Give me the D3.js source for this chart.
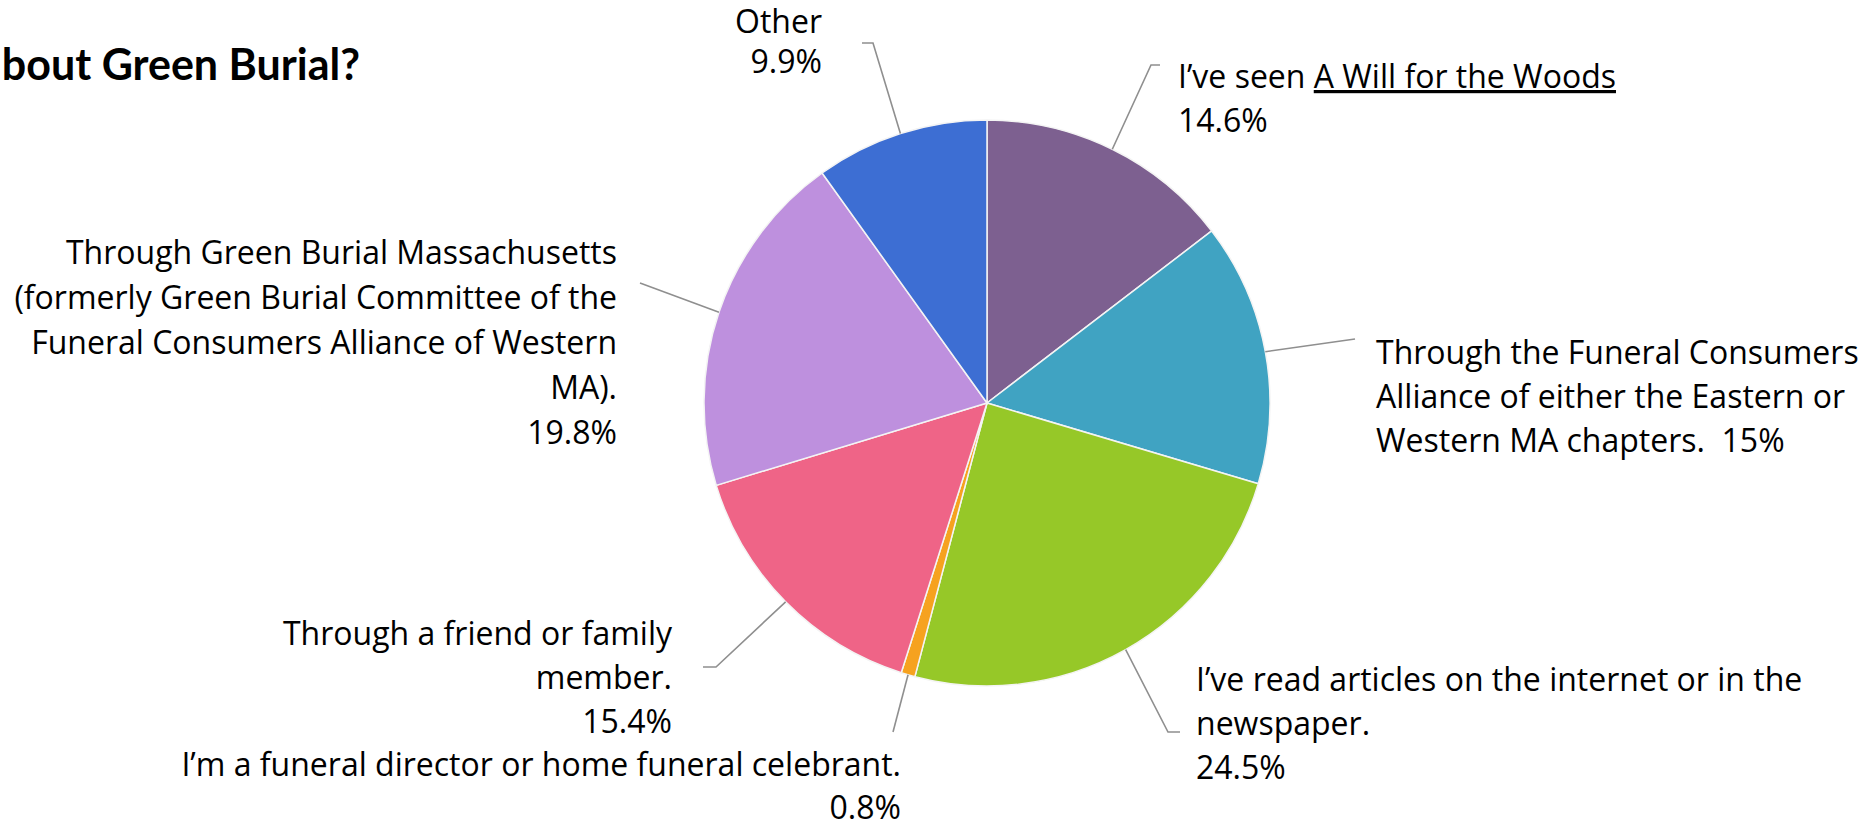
<!DOCTYPE html>
<html>
<head>
<meta charset="utf-8">
<script src="https://cdn.jsdelivr.net/npm/d3@7"></script>
<style>
  body { margin: 0; background: #fff; }
  svg { display: block; font-family: "Open Sans", Lato, sans-serif; }
</style>
</head>
<body>
<svg id="chart" width="1865" height="828"></svg>
<script>
// slices, clockwise from 12 o'clock
let categories = [
    "I’ve seen A Will for the Woods",
    "Through the Funeral Consumers Alliance of either the Eastern or Western MA chapters.",
    "I’ve read articles on the internet or in the newspaper.",
    "I’m a funeral director or home funeral celebrant.",
    "Through a friend or family member.",
    "Through Green Burial Massachusetts (formerly Green Burial Committee of the Funeral Consumers Alliance of Western MA).",
    "Other"
];
let values = [14.6, 15, 24.5, 0.8, 15.4, 19.8, 9.9];
let percentLabels = ["14.6%", "15%", "24.5%", "0.8%", "15.4%", "19.8%", "9.9%"];
let colors = ["#7D6090", "#40A3C2", "#96C828", "#F6A21F", "#EF6487", "#BE90DE", "#3D6ED3"];

// wrapped label text, as it appears on the slide ("|" starts the underlined film title)
let labelLines = [
    ["I’ve seen |A Will for the Woods", "14.6%"],
    ["Through the Funeral Consumers", "Alliance of either the Eastern or", "Western MA chapters.\u00a0 15%"],
    ["I’ve read articles on the internet or in the", "newspaper.", "24.5%"],
    ["I’m a funeral director or home funeral celebrant.", "0.8%"],
    ["Through a friend or family", "member.", "15.4%"],
    ["Through Green Burial Massachusetts", "(formerly Green Burial Committee of the", "Funeral Consumers Alliance of Western", "MA).", "19.8%"],
    ["Other", "9.9%"]
];

let svg = d3.select("#chart");
let cx = 987, cy = 403, radius = 283;

// label placement + leader elbow
let labelPos = [
    {x: 1178, y: 88,  lh: 44, anchor: "start", elbow: [1151, 65],  tail: 9},
    {x: 1376, y: 364, lh: 44, anchor: "start", elbow: null,        end: [1355, 339]},
    {x: 1196, y: 691, lh: 44, anchor: "start", elbow: [1168, 732], tail: 12},
    {x: 901,  y: 776, lh: 43, anchor: "end",   elbow: null,        end: [893, 732]},
    {x: 672,  y: 645, lh: 44, anchor: "end",   elbow: [716, 667],  tail: -13},
    {x: 617,  y: 264, lh: 45, anchor: "end",   elbow: null,        end: [640, 283]},
    {x: 822,  y: 33,  lh: 40, anchor: "end",   elbow: [873, 43],   tail: -11}
];

let pie = d3.pie().sort(null).value(d => d)(values);
let arc = d3.arc().innerRadius(0).outerRadius(radius);
let edge = d3.arc().innerRadius(radius).outerRadius(radius);

let g = svg.append("g").attr("transform", "translate(" + cx + "," + cy + ")");

g.selectAll("path.slice")
    .data(pie)
    .enter().append("path")
    .attr("class", "slice")
    .attr("d", arc)
    .attr("fill", (d, i) => colors[i])
    .attr("stroke", "#f4f4f4")
    .attr("stroke-width", 1.5)
    .attr("stroke-linejoin", "round");

// leader lines
pie.forEach((d, i) => {
    let p = edge.centroid(d);
    let start = [cx + p[0], cy + p[1]];
    let lp = labelPos[i];
    let pts;
    if (lp.elbow) {
        pts = [start, lp.elbow, [lp.elbow[0] + lp.tail, lp.elbow[1]]];
    } else {
        pts = [start, lp.end];
    }
    svg.append("path")
        .attr("d", d3.line()(pts))
        .attr("fill", "none")
        .attr("stroke", "#8f8f8f")
        .attr("stroke-width", 1.6);
});

// labels
labelLines.forEach((lines, i) => {
    let lp = labelPos[i];
    let t = svg.append("text")
        .attr("text-anchor", lp.anchor)
        .attr("font-size", 32)
        .attr("fill", "#000");
    lines.forEach((line, j) => {
        let parts = line.split("|");
        t.append("tspan")
            .attr("x", lp.x)
            .attr("y", lp.y + j * lp.lh)
            .text(parts[0]);
        if (parts.length > 1) {
            t.append("tspan")
                .attr("text-decoration", "underline")
                .text(parts[1]);
        }
    });
});

// title (cut off at the left edge of the slide)
svg.append("text")
    .attr("x", 360)
    .attr("y", 80)
    .attr("text-anchor", "end")
    .attr("font-family", "Lato, sans-serif")
    .attr("font-size", 43)
    .attr("font-weight", "bold")
    .attr("fill", "#000")
    .text("bout Green Burial?");
</script>
</body>
</html>
